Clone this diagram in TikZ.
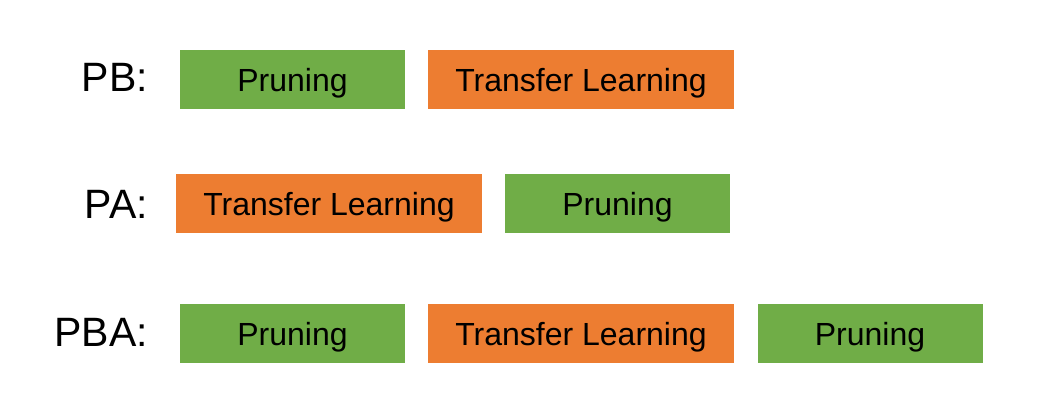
\documentclass[tikz,border=0pt]{standalone}
\usepackage{fontspec}
\setmainfont{Liberation Sans}
\definecolor{prgreen}{HTML}{70AD47}
\definecolor{tlorange}{HTML}{ED7D31}
\begin{document}
\begin{tikzpicture}[x=1pt,y=-1pt,
  stage/.style={draw=none,inner sep=0pt,minimum height=59pt,text height=23pt,text depth=0pt,
    font=\fontsize{32}{38}\selectfont,text=black},
  prbox/.style={stage,fill=prgreen,minimum width=225pt},
  tlbox/.style={stage,fill=tlorange,minimum width=306pt},
  rowlabel/.style={inner sep=0pt,anchor=east,text height=29.4pt,text depth=0pt,font=\fontsize{41}{48}\selectfont}]
\useasboundingbox (0,0) rectangle (1039,407);
% row 1
\node[rowlabel] (lpb) at (148,77) {PB:};
\node[prbox] (pb1) at (292.5,79.5) {Pruning};
\node[tlbox] (pb2) at (581,79.5) {Transfer Learning};
% row 2
\node[rowlabel] (lpa) at (148,204) {PA:};
\node[tlbox] (pa1) at (329,203.5) {Transfer Learning};
\node[prbox] (pa2) at (617.5,203.5) {Pruning};
% row 3
\node[rowlabel] (lpba) at (148,332) {PBA:};
\node[prbox] (pba1) at (292.5,333.5) {Pruning};
\node[tlbox] (pba2) at (581,333.5) {Transfer Learning};
\node[prbox] (pba3) at (870,333.5) {Pruning};
\end{tikzpicture}
\end{document}
